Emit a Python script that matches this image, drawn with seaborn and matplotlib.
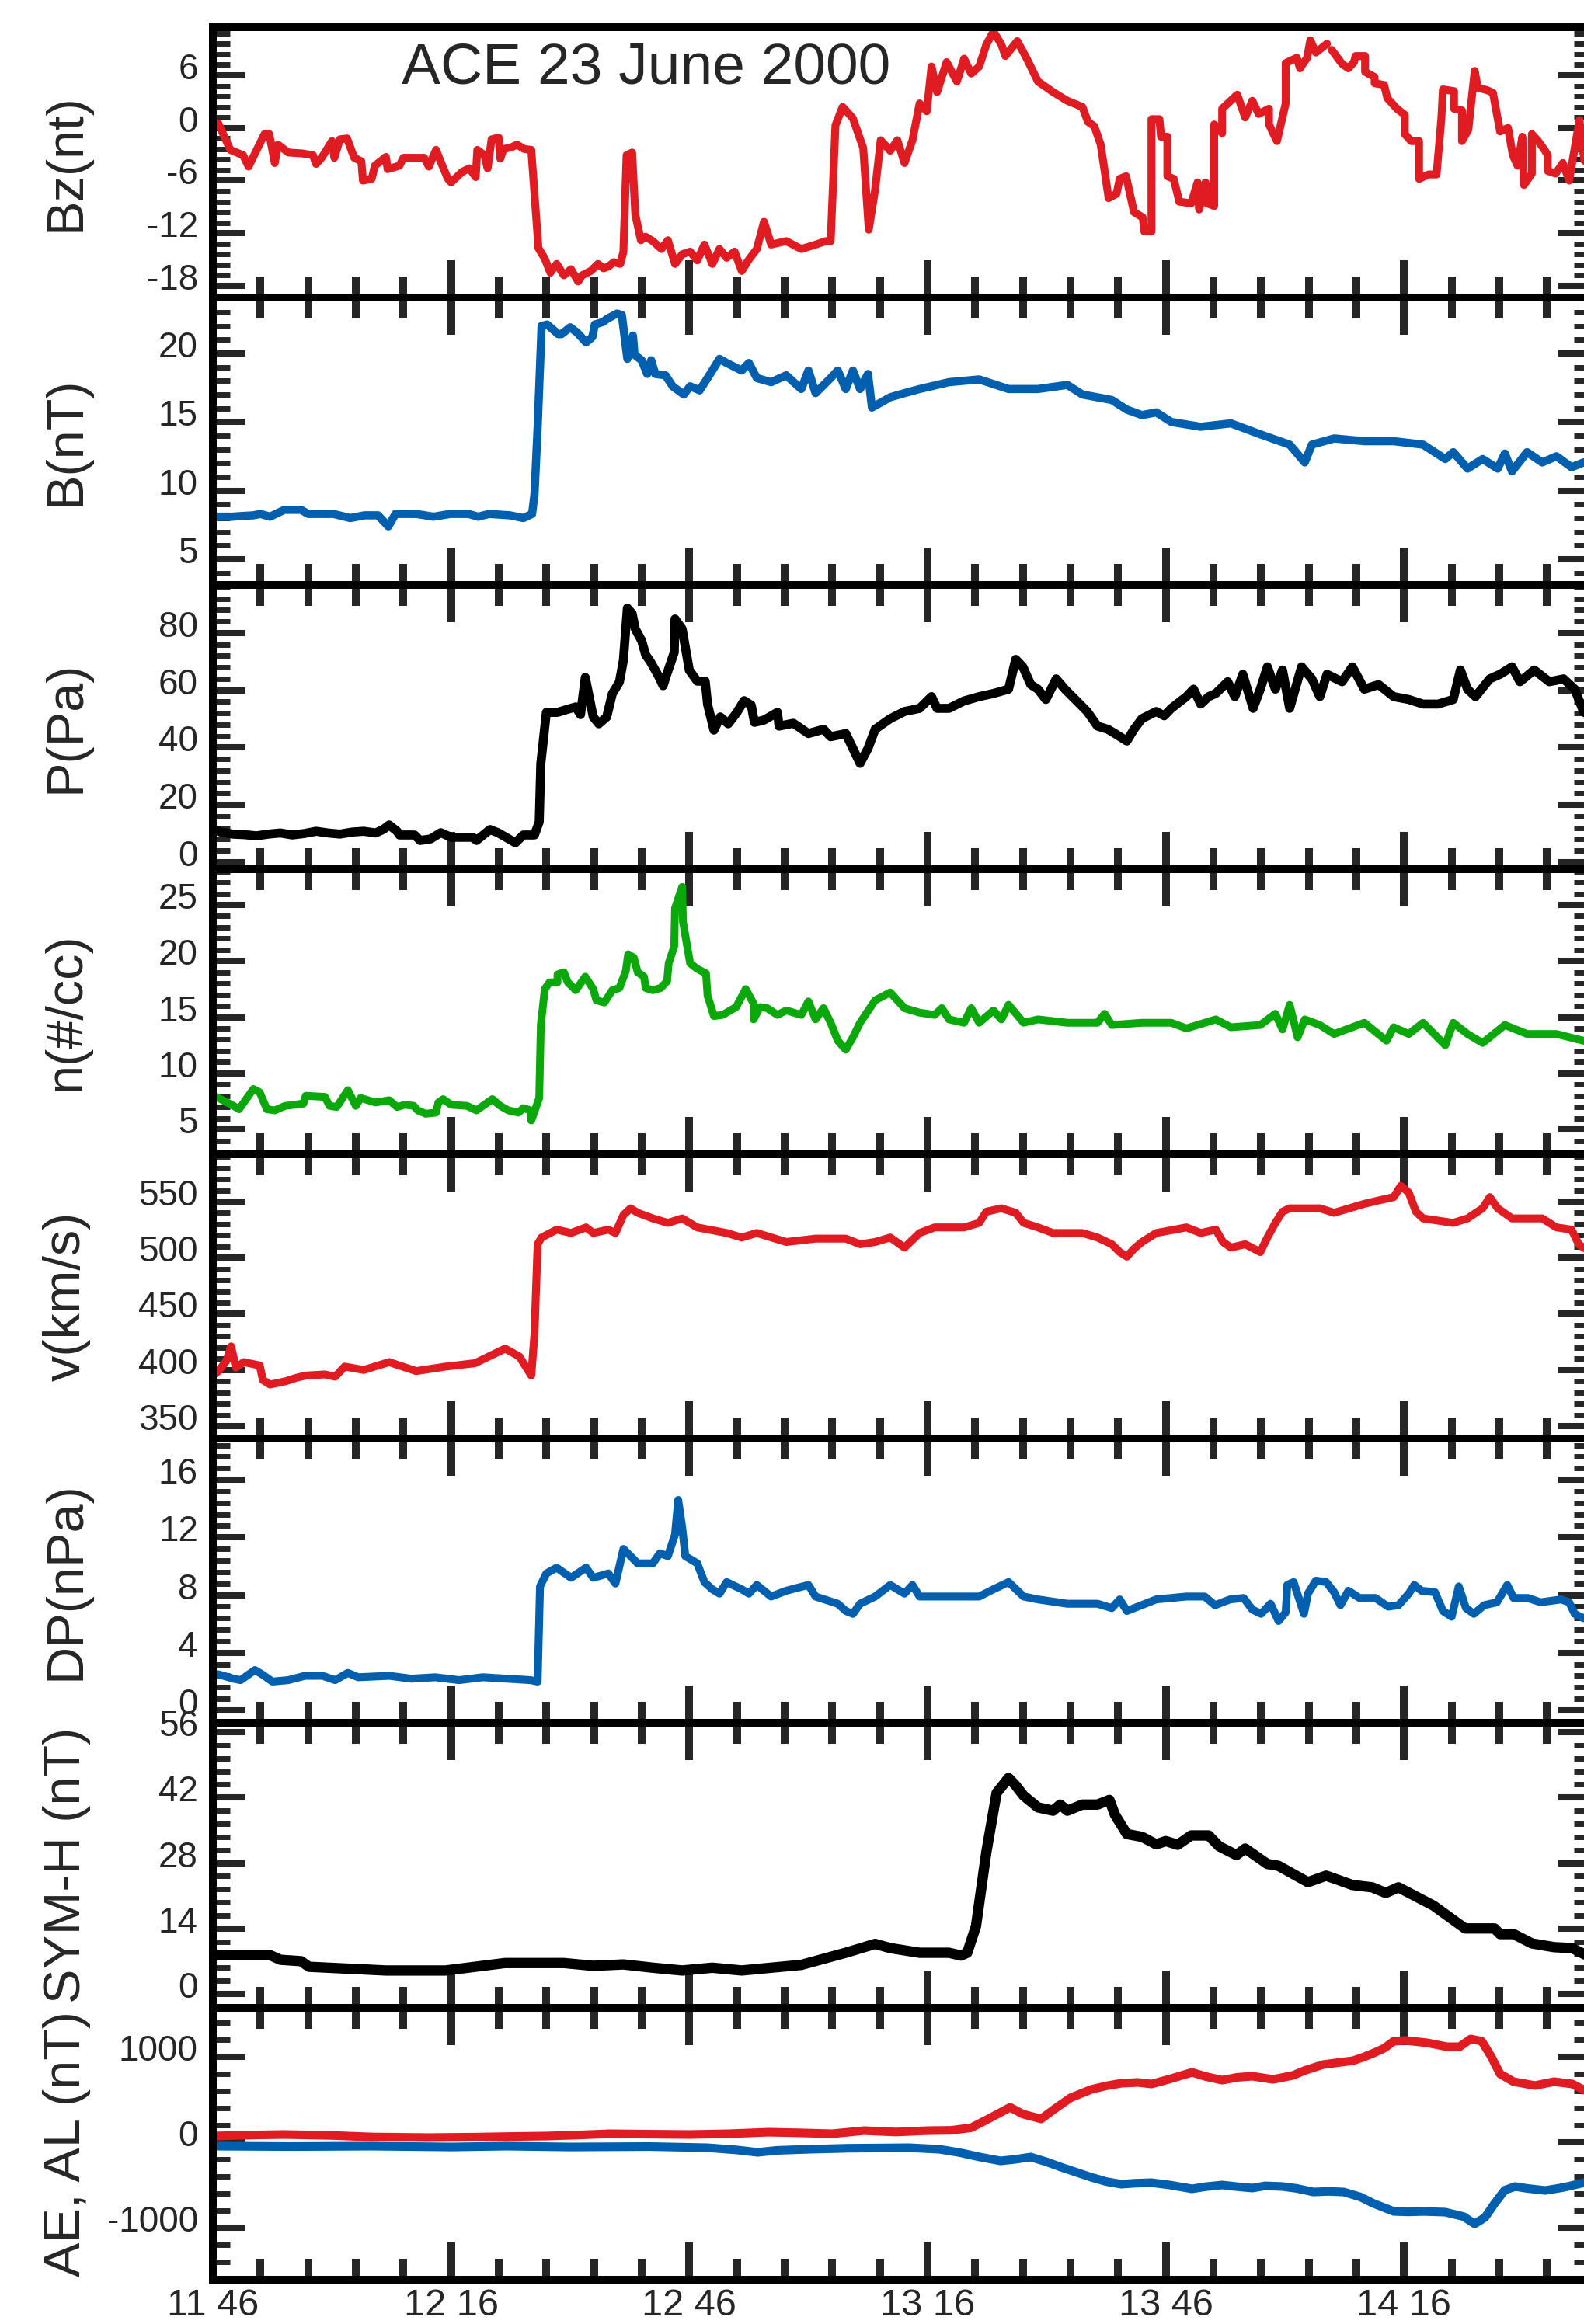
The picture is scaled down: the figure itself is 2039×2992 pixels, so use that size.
import numpy as np
import pandas as pd
import matplotlib
matplotlib.use("Agg")
import matplotlib.pyplot as plt
import matplotlib.transforms as mtransforms
from matplotlib.ticker import FixedLocator, MultipleLocator
import seaborn as sns

# ---------------- data (time in minutes after 11:46 UT, value) ----------------
bz_pts = [(0.0,0.6),(0.7,0.5),(2.2,-2.5),(3.8,-3.1),(4.5,-4.4),(6.5,-0.7),(7.1,-0.7),(7.8,-4.0),(8.2,-1.9),
          (9.5,-2.8),(11.2,-2.9),(12.6,-3.1),(13.0,-4.1),(13.7,-3.4),(15.0,-1.5),(15.3,-3.4),(16.0,-1.3),
          (16.9,-1.2),(17.8,-3.4),(18.7,-3.8),(18.9,-6.0),(20.0,-5.8),(20.4,-4.3),(21.8,-3.3),(22.0,-4.7),
          (23.5,-4.3),(24.0,-3.4),(26.6,-3.4),(27.2,-4.4),(28.1,-2.5),(28.9,-4.3),(29.6,-5.8),(30.0,-6.2),
          (31.4,-5.0),(32.3,-4.6),(33.1,-5.6),(33.3,-2.5),(34.2,-3.1),(34.6,-4.6),(35.1,-1.3),(36.0,-1.1),
          (36.2,-3.5),(36.6,-2.4),(37.6,-2.2),(38.3,-1.9),(39.2,-2.4),(40.1,-2.5),(41.0,-13.7),(41.8,-14.9),
          (42.5,-16.5),(43.3,-15.5),(44.2,-16.8),(45.1,-16.1),(46.0,-17.5),(46.5,-16.8),(47.6,-16.3),
          (48.5,-15.5),(49.2,-16.0),(49.8,-15.8),(50.5,-15.3),(51.3,-15.5),(51.7,-14.1),(52.1,-3.1),
          (52.8,-2.8),(53.2,-9.9),(53.9,-12.8),(54.5,-12.4),(55.4,-12.9),(56.5,-13.8),(57.3,-12.8),
          (58.2,-15.5),(59.1,-14.4),(60.1,-14.1),(61.0,-15.1),(61.9,-13.3),(62.9,-15.5),(63.8,-13.8),
          (64.7,-14.8),(65.7,-14.1),(66.6,-16.3),(67.5,-15.0),(68.5,-13.8),(69.4,-10.7),(70.0,-12.4),
          (70.3,-13.3),(72.2,-12.9),(74.1,-13.8),(75.9,-13.3),(77.2,-12.9),(77.8,-12.9),(78.4,0.3),
          (79.3,2.4),(80.6,1.1),(81.9,-2.3),(82.6,-11.6),(83.4,-7.0),(84.1,-1.4),(85.3,-2.6),(86.2,-1.4),
          (87.1,-4.0),(88.1,-1.4),(89.0,2.8),(89.9,1.9),(90.5,7.0),(91.2,4.1),(92.4,7.5),(93.7,5.3),
          (94.6,7.9),(95.5,6.2),(96.5,7.0),(97.4,9.5),(98.3,11.0),(99.3,9.5),(99.8,8.2),(101.3,9.9),
          (102.5,7.9),(103.9,5.3),(105.8,4.1),(107.6,3.1),(109.5,2.4),(110.2,0.7),(111.0,0.2),(111.8,-1.9),
          (112.2,-4.3),(112.8,-8.0),(113.8,-7.5),(114.2,-5.8),(115.0,-5.5),(116.0,-9.6),(117.1,-10.2),
          (117.3,-11.8),(118.2,-11.8),(118.2,1.0),(119.2,1.0),(119.4,-1.0),(120.2,-1.0),(120.2,-5.5),
          (121.0,-5.8),(121.7,-8.4),(123.2,-8.6),(124.0,-6.2),(124.2,-9.3),(125.0,-6.2),(125.2,-8.6),
          (126.1,-8.9),(126.1,0.4),(127.1,-0.6),(127.1,2.2),(129.0,3.8),(130.0,1.2),(130.9,3.1),(131.7,1.6),
          (133.0,2.2),(133.0,0.4),(134.0,-1.5),(135.1,2.8),(135.1,7.4),(136.5,8.0),(136.9,6.8),(137.8,8.0),
          (138.2,10.0),(138.9,8.6),(140.3,9.6),(140.6,np.nan),(140.9,8.9),(142.2,7.3),(143.0,6.8),
          (143.7,7.5),(143.9,8.2),(145.1,8.2),(145.1,6.4),(146.3,5.8),(146.3,5.1),(147.5,4.9),(147.9,3.4),
          (149.1,2.2),(150.1,1.5),(150.1,-0.7),(150.9,-1.5),(151.9,-1.5),(151.9,-5.8),(153.1,-5.3),
          (154.1,-5.3),(154.7,1.0),(154.9,4.4),(156.3,4.2),(156.3,2.2),(157.3,2.0),(157.3,-1.5),(158.1,-0.2),
          (158.9,6.5),(159.3,4.6),(160.5,4.3),(161.2,4.0),(162.1,-0.4),(163.1,0.0),(163.7,-3.1),(164.3,-4.3),
          (164.9,-1.0),(165.1,-6.5),(166.1,-5.2),(166.1,-0.7),(166.9,-1.5),(167.7,-2.5),(168.1,-3.1),
          (168.1,-4.9),(169.1,-5.2),(170.0,-4.0),(170.8,-6.0),(172.1,0.9),(172.7,-3.7),(173.6,-4.5)]

b_pts = [(0.0,8.0),(0.7,8.1),(2.4,8.1),(5.1,8.2),(6.0,8.3),(7.2,8.1),(9.0,8.6),(11.1,8.6),(12.0,8.3),(15.2,8.3),
         (17.3,8.0),(19.1,8.2),(20.8,8.2),(22.1,7.4),(23.0,8.3),(25.6,8.3),(27.8,8.1),(29.9,8.3),(32.2,8.3),
         (33.4,8.1),(34.8,8.3),(37.4,8.2),(39.1,8.0),(40.2,8.3),(40.5,9.7),(40.9,14.6),(41.4,22.0),(42.1,22.1),
         (43.5,21.4),(43.9,21.4),(45.0,21.9),(45.9,21.5),(47.0,20.8),(47.8,21.2),(48.1,22.1),(49.2,22.3),
         (49.6,22.5),(50.9,22.9),(51.5,22.8),(52.2,19.6),(52.9,21.3),(53.1,19.9),(54.0,19.5),(54.7,18.5),
         (55.2,19.5),(55.7,18.5),(57.0,18.4),(57.9,17.6),(59.3,17.0),(60.1,17.6),(61.3,17.3),(62.9,18.75),
         (63.8,19.6),(64.7,19.3),(66.6,18.75),(67.5,19.3),(68.5,18.2),(70.3,17.9),(72.2,18.4),(74.1,17.4),
         (75.0,18.75),(75.9,17.1),(77.8,18.2),(78.7,18.75),(79.7,17.4),(80.6,18.75),(81.5,17.4),(82.5,18.5),
         (83.0,16.05),(85.3,16.8),(87.1,17.1),(89.0,17.4),(92.7,17.9),(96.5,18.1),(100.2,17.4),(103.9,17.4),
         (107.6,17.7),(109.5,17.0),(113.2,16.6),(115.1,15.9),(117.0,15.5),(118.8,15.7),(120.7,15.0),
         (124.4,14.65),(128.2,14.9),(131.9,14.1),(135.6,13.35),(137.5,12.05),(138.4,13.35),(141.2,13.8),
         (145.0,13.6),(148.7,13.6),(152.4,13.35),(155.2,12.3),(156.2,12.8),(158.0,11.6),(159.9,12.3),
         (161.8,11.6),(162.7,12.7),(163.6,11.4),(165.5,12.8),(167.4,12.05),(169.2,12.5),(171.1,11.7),
         (172.6,12.05),(173.6,12.2)]

p_pts = [(0.0,11.5),(1.0,10.5),(2.5,9.8),(4.0,9.6),(5.5,9.2),(7.0,9.8),(8.5,10.2),(10.0,9.5),(11.5,10.0),
         (13.0,10.8),(14.5,10.2),(16.0,9.8),(17.5,10.5),(19.0,10.8),(20.5,10.2),(21.5,11.5),(22.2,13.0),
         (23.2,10.8),(23.5,9.5),(25.4,9.5),(26.1,7.6),(27.4,8.1),(28.7,10.3),(30.0,8.7),(32.7,8.7),(33.2,7.6),
         (34.9,11.4),(35.9,10.3),(36.9,8.7),(38.1,6.8),(39.1,9.5),(40.5,9.5),(41.1,14.1),(41.3,34.4),
         (42.0,52.3),(43.4,52.3),(44.7,53.4),(45.7,54.2),(46.3,51.5),(46.9,64.5),(47.9,50.7),(48.6,48.3),
         (49.6,50.7),(50.3,58.8),(51.2,62.9),(51.7,70.5),(52.2,88.7),(52.8,86.8),(53.2,81.4),(54.0,77.3),
         (54.5,72.4),(55.1,70.0),(56.1,65.1),(56.7,61.6),(57.2,65.9),(58.1,73.2),(58.2,84.9),(59.1,81.4),
         (60.0,67.0),(61.0,63.2),(62.0,63.2),(62.3,55.1),(63.1,46.1),(63.9,50.7),(64.9,48.3),(66.0,52.3),
         (66.9,56.4),(67.8,54.8),(68.2,48.8),(69.4,49.6),(71.1,52.3),(71.3,47.5),(73.1,48.5),(75.0,44.9),
         (76.9,46.4),(77.8,43.8),(79.7,44.9),(80.6,39.7),(81.5,34.5),(82.5,39.7),(83.4,46.4),(85.3,50.1),
         (87.1,52.6),(89.0,53.7),(90.5,57.8),(91.2,53.7),(92.7,53.7),(94.6,56.3),(96.5,57.8),(98.3,58.9),
         (100.2,60.4),(101.1,70.8),(102.0,68.2),(103.0,62.0),(103.9,60.4),(104.9,56.8),(106.2,64.0),
         (107.3,60.4),(108.6,56.8),(110.1,52.6),(111.4,47.5),(112.7,46.4),(113.6,44.9),(115.1,42.3),
         (116.0,46.4),(117.0,50.1),(118.8,52.6),(119.8,51.1),(120.7,53.7),(122.6,57.8),(123.5,60.4),
         (124.4,55.2),(125.4,57.8),(126.3,58.9),(127.8,63.0),(128.7,57.8),(129.7,65.6),(131.0,53.7),
         (131.9,60.4),(132.8,68.2),(133.8,60.4),(134.7,67.1),(135.6,53.7),(137.1,68.2),(138.4,64.0),
         (139.4,57.8),(140.3,65.6),(142.2,63.0),(143.5,68.2),(145.0,60.4),(146.8,62.0),(148.7,57.8),
         (150.6,56.8),(152.4,55.2),(154.3,55.2),(156.2,56.8),(157.1,67.1),(158.0,60.4),(159.0,57.8),
         (160.8,64.0),(162.1,65.6),(163.6,68.2),(164.6,63.0),(166.4,67.1),(168.3,63.0),(170.1,64.0),
         (171.5,60.4),(172.6,52.6),(173.6,50.0)]

n_pts = [(0.0,8.0),(0.7,7.8),(2.6,7.1),(3.3,6.8),(5.1,8.6),(5.9,8.3),(6.8,6.8),(7.8,6.7),(9.1,7.1),(11.4,7.3),
         (11.7,8.0),(14.1,7.9),(14.7,7.1),(15.6,7.0),(17.0,8.5),(18.0,7.1),(18.6,7.8),(20.5,7.4),(22.2,7.6),
         (23.2,7.0),(24.2,7.2),(25.3,7.1),(25.8,6.7),(26.8,6.4),(28.1,6.5),(28.4,7.4),(29.0,7.7),(30.0,7.2),
         (32.0,7.1),(33.2,6.7),(34.2,7.2),(35.2,7.7),(36.2,7.1),(37.2,6.7),(38.5,6.5),(39.1,6.9),(40.0,6.7),
         (40.1,5.8),(41.1,7.8),(41.3,14.3),(41.8,17.5),(42.4,18.1),(43.4,18.1),(43.4,18.8),(44.2,19.0),
         (44.7,18.1),(45.7,17.4),(46.9,18.6),(47.9,17.5),(48.3,16.5),(49.3,16.3),(50.3,17.4),(51.2,17.6),
         (52.0,19.1),(52.3,20.6),(53.0,20.3),(53.5,19.0),(54.3,18.6),(54.5,17.6),(55.4,17.4),(56.4,17.6),
         (57.2,18.2),(57.4,19.8),(58.1,21.3),(58.2,24.7),(59.1,26.6),(59.2,23.5),(60.1,19.8),(61.0,19.3),
         (62.1,18.9),(62.3,16.9),(63.1,15.1),(64.2,15.2),(65.9,15.9),(67.1,17.5),(68.1,16.2),(68.1,14.8),
         (68.9,15.9),(69.8,15.8),(71.1,15.2),(72.2,15.6),(74.1,15.2),(75.0,16.4),(75.9,14.8),(76.9,15.8),
         (77.8,14.5),(78.7,12.9),(79.7,12.1),(80.6,13.2),(81.5,14.5),(83.4,16.5),(85.3,17.2),(87.1,15.8),
         (89.0,15.4),(90.9,15.2),(91.8,15.8),(92.7,14.8),(94.6,14.5),(95.5,15.8),(96.5,14.5),(98.3,15.6),
         (99.3,14.8),(100.2,16.1),(102.1,14.5),(103.9,14.8),(107.6,14.5),(111.4,14.5),(112.3,15.3),
         (113.2,14.3),(117.0,14.5),(120.7,14.5),(122.6,14.0),(126.3,14.8),(128.2,14.1),(131.9,14.3),
         (133.8,15.3),(134.7,13.9),(135.6,16.1),(136.6,13.2),(137.5,14.8),(139.4,14.3),(141.2,13.5),
         (145.0,14.5),(147.8,12.9),(148.7,14.1),(150.6,13.5),(152.4,14.5),(155.2,12.5),(156.2,14.5),
         (158.0,13.5),(159.9,12.7),(162.7,14.3),(165.5,13.5),(169.2,13.5),(172.6,12.9),(173.6,12.8)]

v_pts = [(0.0,395),(0.7,399),(1.7,408),(2.3,421),(2.9,402),(3.9,407),(5.9,404),(6.3,391),(7.2,387),(9.2,390),
         (10.5,393),(11.7,395),(14.1,396),(15.4,394),(16.6,403),(19.0,400),(22.2,407),(25.6,399),(29.3,403),
         (33.0,406),(36.8,419),(38.6,412),(40.1,395),(40.5,432),(40.9,512),(41.4,518),(43.3,525),(45.1,522),
         (47.0,527),(47.9,522),(49.8,525),(50.7,522),(51.7,538),(52.6,544),(53.5,540),(55.4,535),(57.3,531),
         (59.1,535),(61.0,527),(64.7,522),(66.6,518),(68.5,522),(72.2,514),(75.9,517),(79.7,517),(81.5,512),
         (83.4,514),(85.3,518),(87.1,509),(89.0,522),(90.9,527),(94.6,527),(96.5,531),(97.4,541),(99.3,544),
         (101.1,540),(102.1,531),(103.9,527),(105.8,522),(109.5,522),(111.4,518),(113.2,512),(114.2,505),
         (115.1,501),(116.0,508),(117.0,514),(118.8,522),(122.6,527),(124.4,522),(126.3,525),(127.2,514),
         (128.2,509),(130.0,512),(131.9,505),(132.8,518),(133.8,531),(134.7,541),(135.6,544),(139.4,544),
         (141.2,540),(145.0,548),(146.8,551),(148.7,554),(149.6,564),(150.6,558),(151.5,541),(152.4,535),
         (156.2,531),(158.0,535),(159.9,544),(160.8,554),(161.8,544),(163.6,535),(167.4,535),(169.2,527),
         (171.1,525),(172.0,512),(172.6,509),(173.6,505)]

dp_pts = [(0.0,2.5),(0.7,2.5),(2.6,2.2),(3.5,2.1),(5.3,2.8),(6.2,2.5),(7.5,2.0),(9.5,2.1),(11.6,2.4),(13.8,2.4),
          (15.4,2.1),(17.0,2.6),(18.3,2.3),(22.2,2.4),(25.0,2.2),(28.0,2.3),(31.0,2.1),(34.0,2.3),(37.0,2.2),
          (40.0,2.1),(40.9,2.0),(41.2,8.6),(42.0,9.5),(43.3,9.9),(45.1,9.2),(47.0,9.9),(47.9,9.2),(49.8,9.5),
          (50.7,8.8),(51.7,11.2),(52.6,10.7),(53.5,10.2),(55.4,10.2),(56.3,10.9),(57.3,10.7),(58.2,12.2),
          (58.6,14.6),(59.1,12.7),(59.5,10.7),(61.0,10.2),(61.9,8.9),(62.9,8.4),(63.8,8.1),(64.7,8.9),
          (66.6,8.4),(67.5,8.1),(68.5,8.7),(70.3,7.9),(72.2,8.3),(75.0,8.7),(75.9,7.9),(78.7,7.4),(79.7,6.9),
          (80.6,6.7),(81.5,7.4),(83.4,7.9),(85.3,8.7),(87.1,8.1),(88.1,8.7),(89.0,7.9),(92.7,7.9),(96.5,7.9),
          (98.3,8.4),(100.2,8.9),(102.1,7.9),(103.9,7.7),(107.6,7.4),(111.4,7.4),(113.2,7.1),(114.2,7.7),
          (115.1,6.9),(118.8,7.7),(122.6,7.9),(124.9,7.9),(126.2,7.3),(128.1,7.7),(129.8,7.8),(130.9,7.0),
          (132.0,6.7),(133.2,7.4),(134.2,6.2),(135.1,6.8),(135.3,8.7),(136.1,8.9),(137.4,6.7),(137.9,8.1),
          (138.9,9.0),(140.2,8.9),(141.2,8.2),(142.0,7.3),(143.0,8.3),(144.4,7.8),(146.4,7.8),(148.0,7.2),
          (149.3,7.3),(150.6,8.1),(151.3,8.7),(152.2,8.3),(153.9,8.2),(154.9,6.9),(156.0,6.5),(156.9,8.6),
          (157.8,7.1),(158.8,6.7),(160.1,7.3),(161.7,7.5),(163.0,8.7),(163.8,7.8),(165.6,7.8),(167.2,7.5),
          (169.8,7.7),(170.8,7.5),(171.5,6.7),(172.6,6.4),(173.6,6.3)]

sym_pts = [(0.0,8.3),(5.0,8.3),(7.2,8.3),(8.5,7.3),(11.1,7.0),(12.1,5.8),(21.8,5.0),(29.3,5.0),(34.9,6.2),
           (36.8,6.6),(44.2,6.6),(47.9,6.0),(51.7,6.3),(55.4,5.6),(59.1,5.0),(62.9,5.6),(66.6,5.0),(70.3,5.6),
           (74.1,6.2),(76.9,7.5),(79.7,8.8),(83.4,10.7),(85.3,9.8),(89.0,8.8),(92.7,8.8),(94.2,8.2),(95.0,8.8),
           (96.1,14.5),(97.4,30.3),(98.7,43.0),(100.2,46.2),(101.1,44.6),(102.1,42.4),(103.9,39.9),
           (105.8,39.2),(106.7,40.5),(107.6,39.2),(109.5,40.5),(111.4,40.5),(112.9,41.5),(113.6,38.3),
           (115.1,34.2),(117.0,33.6),(118.8,32.0),(120.0,32.7),(121.5,31.9),(123.2,33.9),(125.4,33.9),
           (126.7,31.6),(128.9,29.7),(130.0,31.1),(132.8,27.8),(134.2,27.4),(137.9,23.9),(140.2,25.3),
           (143.5,23.3),(146.0,22.8),(147.7,21.6),(149.3,22.8),(153.7,18.9),(157.7,14.0),(161.4,14.0),
           (162.1,12.8),(163.8,12.8),(166.1,10.8),(168.9,10.0),(171.2,9.8),(172.9,8.3),(173.6,8.0)]

ae_pts = [(0,73),(5,85),(9,91),(15,80),(20,62),(27,55),(33,60),(38,68),(42,73),(46,85),(50,100),(55,95),(60,91),
          (65,100),(70,118),(74,110),(78,100),(82,136),(86,120),(90,136),(93,140),(95.5,170),(98,290),
          (100.4,409),(102,330),(104.3,273),(106,390),(108,520),(110.6,618),(112.5,660),(114.4,691),
          (116.5,700),(118.2,682),(120.5,740),(123.3,818),(125,770),(127.1,727),(129,760),(130.9,773),
          (133.5,736),(136.0,782),(137.5,840),(139.8,909),(141.5,930),(143.6,955),(145,1000),(146.2,1045),
          (147.5,1100),(148.7,1182),(150.2,1191),(152.9,1164),(155.4,1118),(157.0,1118),(158.4,1209),
          (159.8,1182),(161,1000),(162.1,800),(163.8,709),(166.5,664),(168.9,709),(171.2,682),(172.9,600),
          (173.6,570)]

al_pts = [(0,-45),(10,-50),(20,-45),(30,-55),(37,-45),(45,-55),(55,-50),(62.3,-64),(66,-90),(68.6,-118),
          (71,-95),(75,-82),(80,-70),(87.7,-64),(91.5,-82),(94,-120),(96.6,-173),(99.2,-218),(101,-200),
          (103,-173),(105,-230),(106.8,-291),(108.7,-350),(110.6,-409),(112.5,-460),(114.4,-491),(116,-480),
          (118.2,-473),(120.5,-500),(123.3,-545),(125,-520),(127.1,-500),(129,-520),(130.9,-536),(132.5,-510),
          (134.7,-518),(136.5,-540),(138.6,-582),(140.5,-575),(142.4,-582),(144.5,-640),(146.2,-718),
          (148.7,-809),(150.5,-815),(152.5,-810),(155.2,-818),(157.5,-870),(158.9,-955),(160.2,-880),
          (161.4,-718),(162.7,-560),(164.0,-518),(165.5,-540),(167.8,-564),(170,-530),(172.7,-473),(173.6,-450)]

x_major = [0, 30, 60, 90, 120, 150]
x_labels = ["11 46", "12 16", "12 46", "13 16", "13 46", "14 16"]

# ---------------- style ----------------
sns.set_style("white")
plt.rcParams['font.family'] = ['Liberation Sans', 'DejaVu Sans']

RED, BLUE, GREEN, BLACK = "#e11b22", "#005fae", "#0aa80a", "#000000"

W, H = 2040, 2992
EDGES = [35, 383, 753, 1119, 1486, 1852, 2218, 2585, 2935]
LEFT, RIGHT = 274, 2048
XMAX = (RIGHT - LEFT) / 10.222

panels = [
    ("Bz(nt)", (-19.33, 11.49), [-18, -12, -6, 0, 6], 1.2, [(bz_pts, RED, 7.3)]),
    ("B(nT)", (3.13, 24.07), [5, 10, 15, 20], 1.0, [(b_pts, BLUE, 7.6)]),
    ("P(Pa)", (-2.44, 96.8), [0, 20, 40, 60, 80], 4.0, [(p_pts, BLACK, 8.4)]),
    ("n(#/cc)", (2.79, 28.18), [5, 10, 15, 20, 25], 1.0, [(n_pts, GREEN, 7.2)]),
    ("v(km/s)", (338.9, 592.2), [350, 400, 450, 500, 550], 10, [(v_pts, RED, 7.3)]),
    ("DP(nPa)", (-0.86, 18.86), [0, 4, 8, 12, 16], 0.8, [(dp_pts, BLUE, 7.3)]),
    ("SYM-H (nT)", (-2.99, 58.0), [0, 14, 28, 42, 56], 2.8, [(sym_pts, BLACK, 9.6)]),
    ("AE, AL (nT)", (-1609, 1573), [-1000, 0, 1000], 200, [(ae_pts, RED, 8.0), (al_pts, BLUE, 8.0)]),
]


def frame(pts):
    a = np.asarray(pts, dtype=float)
    t, v = a[:, 0], a[:, 1]
    seg = np.cumsum(np.isnan(v))
    ok = ~np.isnan(v)
    return pd.DataFrame({"t": t[ok], "v": v[ok], "seg": seg[ok]})


fig = plt.figure(figsize=(W / 100, H / 100), dpi=100)
fig.patch.set_facecolor("white")
lab_off = mtransforms.ScaledTranslation(0, 0.12, fig.dpi_scale_trans)

for i, (lab, ylim, yt, mstep, series) in enumerate(panels):
    top, bot = EDGES[i], EDGES[i + 1]
    ax = fig.add_axes([LEFT / W, 1 - bot / H, (RIGHT - LEFT) / W, (bot - top) / H])
    ax.patch.set_visible(False)
    for pts, col, lw in series:
        sns.lineplot(data=frame(pts), x="t", y="v", units="seg", estimator=None, sort=False,
                     color=col, linewidth=lw, ax=ax, legend=False)
    ax.set_xlim(0, XMAX)
    ax.set_ylim(*ylim)
    ax.set_xlabel("")
    ax.set_ylabel(lab, fontsize=48)
    ax.yaxis.set_label_coords(117 / W, 0.5,
                              transform=mtransforms.blended_transform_factory(fig.transFigure, ax.transAxes))
    for s in ax.spines.values():
        s.set_linewidth(7.2)
        s.set_color("black")
    ax.xaxis.set_major_locator(FixedLocator(x_major))
    ax.xaxis.set_minor_locator(MultipleLocator(6))
    ax.yaxis.set_minor_locator(MultipleLocator(mstep))
    last = i == len(panels) - 1
    if last:
        ax.tick_params(axis="x", which="major", direction="in", length=34.6, width=7.2, bottom=True,
                       top=False, labelbottom=True, labelsize=35, pad=8)
        ax.tick_params(axis="x", which="minor", direction="in", length=19.4, width=7.2, bottom=True, top=False)
    else:
        ax.tick_params(axis="x", which="major", direction="inout", length=69, width=7.2, bottom=True,
                       top=False, labelbottom=False)
        ax.tick_params(axis="x", which="minor", direction="inout", length=39, width=7.2, bottom=True, top=False)
    ax.tick_params(axis="y", which="major", direction="in", length=30, width=5.8, left=True, right=True,
                   labelsize=33, pad=13.7)
    ax.tick_params(axis="y", which="minor", direction="in", length=15.8, width=5, left=True, right=True)
    ax.set_yticks(yt, labels=[str(v) for v in yt])
    if last:
        ax.set_xticks(x_major, labels=x_labels)
    for tk in ax.yaxis.get_major_ticks():
        tk.label1.set_transform(tk.label1.get_transform() + lab_off)

fig.text(832 / W, 1 - 107 / H, "ACE 23 June 2000", fontsize=54, ha="center", va="baseline")

fig.savefig("out.png", dpi=100)
